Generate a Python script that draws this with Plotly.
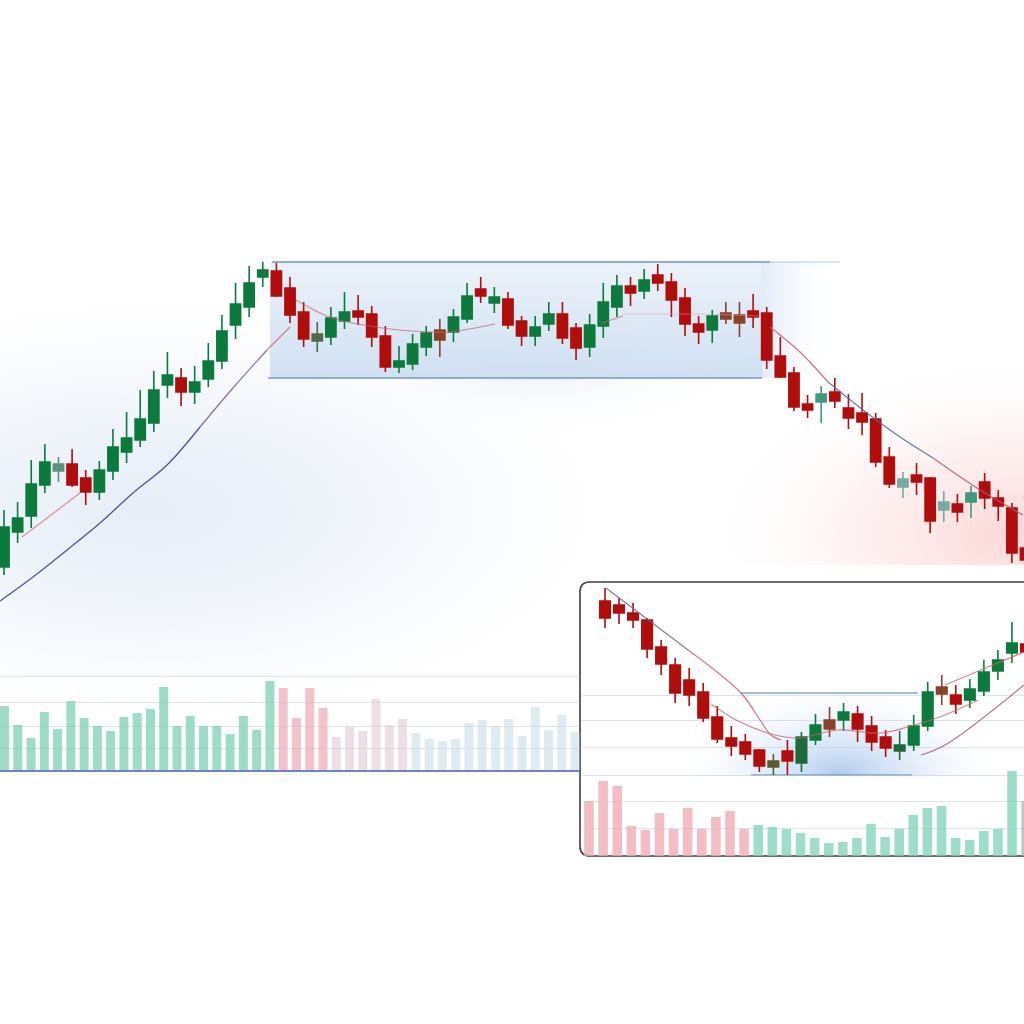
import plotly.graph_objects as go

# ---------------- main chart: candles ----------------
main_open  = [43.3, 46.8, 48.4, 51.5, 52.9, 53.6, 52.2, 50.8, 52.9, 54.8, 56.0, 57.7, 61.5, 62.2, 60.8, 62.1, 63.9, 67.5, 69.3, 72.3,
              72.9, 71.2, 68.8, 65.9, 66.3, 67.9, 68.9, 68.6, 66.4, 63.3, 63.6, 65.3, 67.0, 66.8, 68.1, 71.1, 69.7, 70.1, 67.9, 66.4,
              67.6, 68.6, 67.2, 65.3, 67.4, 69.3, 71.4, 70.9, 72.5, 71.8, 70.2, 67.6, 67.0, 68.7, 68.5, 68.9, 68.7, 64.4, 62.7, 59.6,
              59.8, 60.8, 59.2, 58.7, 58.1, 54.3, 51.3, 52.5, 52.2, 49.0, 49.6, 49.8, 51.8, 50.2, 49.2, 45.2]
main_high  = [49.0, 49.8, 54.0, 55.6, 54.3, 55.1, 53.0, 53.9, 57.1, 58.8, 61.0, 62.9, 64.8, 63.2, 63.4, 65.7, 68.5, 71.7, 73.4, 73.8,
              73.7, 72.3, 69.8, 67.8, 69.3, 70.8, 70.5, 69.4, 67.4, 65.4, 66.6, 67.4, 68.1, 69.1, 71.7, 72.3, 71.3, 70.8, 68.4, 68.4,
              69.8, 69.8, 67.7, 68.6, 71.7, 72.5, 72.3, 73.1, 73.6, 72.7, 71.2, 68.4, 69.0, 69.8, 69.8, 70.6, 69.3, 66.3, 63.3, 60.5,
              61.4, 62.2, 60.6, 60.7, 58.7, 55.3, 52.8, 53.7, 52.3, 50.9, 50.6, 51.4, 52.7, 51.0, 49.7, 45.5]
main_low   = [42.5, 45.7, 47.2, 50.7, 51.8, 51.3, 49.5, 50.0, 52.0, 53.7, 55.3, 56.8, 60.2, 59.4, 59.6, 61.3, 63.1, 66.1, 68.3, 71.3,
              70.3, 67.7, 65.3, 64.8, 65.5, 67.1, 67.5, 65.3, 62.8, 62.7, 63.0, 64.4, 64.3, 65.8, 67.7, 69.7, 68.7, 67.1, 65.4, 65.4,
              66.9, 65.6, 64.0, 64.3, 66.2, 68.3, 69.4, 70.1, 70.9, 68.3, 66.4, 65.6, 65.7, 67.6, 66.3, 67.2, 63.1, 62.2, 58.9, 58.2,
              57.7, 59.2, 57.1, 56.5, 53.3, 51.2, 50.2, 50.5, 46.7, 47.8, 47.8, 48.2, 49.1, 47.9, 43.7, 43.5]
main_close = [47.3, 48.2, 51.6, 53.8, 53.6, 51.5, 50.8, 53.0, 55.3, 56.2, 58.1, 61.0, 62.5, 60.8, 61.8, 63.9, 66.9, 69.6, 71.7, 73.0,
              70.4, 68.5, 66.1, 66.6, 68.2, 68.8, 68.3, 66.3, 63.3, 63.9, 65.6, 66.7, 66.0, 68.3, 70.4, 70.4, 70.3, 67.5, 66.4, 67.3,
              68.6, 66.2, 65.2, 67.5, 69.8, 71.4, 70.7, 72.0, 71.7, 70.0, 67.6, 66.8, 68.4, 68.1, 67.7, 68.3, 64.0, 62.3, 59.3, 59.0,
              60.6, 59.9, 58.2, 57.8, 53.8, 51.6, 52.1, 51.8, 47.9, 49.8, 48.8, 50.7, 50.2, 49.4, 44.7, 44.0]
main_kind  = ["G", "G", "G", "G", "TG", "R", "R", "G", "G", "G", "G", "G", "G", "R", "G", "G", "G", "G", "G", "G",
              "R", "R", "R", "OL", "G", "G", "R", "R", "R", "G", "G", "G", "BR", "G", "G", "R", "G", "R", "R", "G",
              "G", "R", "R", "G", "G", "G", "R", "G", "R", "R", "R", "R", "G", "BR", "BR", "R", "R", "R", "R", "R",
              "T", "R", "R", "R", "R", "R", "TL", "R", "R", "TL", "R", "T", "R", "R", "R", "R"]

# trend / average lines of the main chart (x = candle index, y = price)
ma_start_x = [1.32, 5.58]
ma_start_y = [46.3, 50.7]
trend_up_x = [-0.29, 2.13, 4.63, 7.05, 9.47, 11.97, 14.39, 16.81, 19.31, 21.0]
trend_up_y = [39.9, 42.3, 45.0, 47.7, 50.7, 53.5, 57.3, 61.2, 65.0, 67.3]
range_ma_x = [21.44, 24.08, 27.31, 29.88, 31.57, 32.67, 36.05, None, 43.91, 45.45]
range_ma_y = [70.0, 68.2, 67.3, 66.9, 66.8, 66.8, 67.6, None, 67.7, 68.4]
range_flat_x = [45.45, 51.47, 55.51]
range_flat_y = [68.6, 68.6, 68.4]
trend_dn_x = [56.24, 58.44, 60.5, 63.36, 65.79, 68.21, 71.44, 74.82]
trend_dn_y = [67.3, 64.8, 61.8, 58.7, 56.3, 54.2, 51.2, 48.5]

# ---------------- main chart: volume ----------------
main_vol = [64, 45, 32, 58, 41, 69, 52, 44, 39, 53, 57, 61, 83, 44, 54, 44, 44, 36, 54, 40,
            89, 82, 52, 82, 62, 33, 43, 39, 71, 45, 51, 37, 31, 29, 31, 47, 50, 44, 51, 34,
            63, 40, 55, 38]
main_vol_kind = ["up"] * 21 + ["down"] * 4 + ["fade"] * 6 + ["calm"] * 13

# ---------------- inset chart ----------------
in_open  = [39.9, 39.5, 38.7, 38.0, 35.3, 33.5, 32.0, 30.8, 28.3, 26.2, 25.8, 25.0, 23.3, 24.9, 23.7, 26.0, 28.0, 28.0, 28.6, 27.4,
            26.3, 24.9, 25.5, 27.4, 31.3, 30.5, 30.0, 30.9, 32.9, 34.7, 35.6]
in_high  = [41.2, 40.2, 39.7, 38.2, 36.0, 34.2, 33.2, 31.7, 29.4, 27.4, 26.6, 25.1, 24.6, 26.0, 26.8, 28.6, 29.3, 29.7, 29.4, 28.4,
            27.0, 26.9, 28.5, 31.8, 32.5, 31.5, 32.1, 34.0, 35.0, 37.8, 36.4]
in_low   = [37.2, 37.6, 37.2, 34.2, 32.5, 29.7, 29.4, 27.8, 25.7, 24.4, 24.0, 22.8, 22.5, 22.5, 22.8, 25.5, 26.3, 26.9, 25.8, 24.9,
            24.3, 24.0, 24.9, 26.9, 29.5, 28.6, 29.2, 30.4, 32.0, 33.7, 34.0]
in_close = [38.2, 38.7, 38.0, 35.1, 33.6, 30.7, 30.5, 28.2, 26.1, 25.4, 24.6, 23.4, 23.9, 23.9, 26.3, 27.5, 27.1, 28.8, 27.1, 25.8,
            25.2, 25.5, 27.4, 30.8, 30.6, 29.6, 31.1, 32.8, 34.0, 35.7, 34.8]
in_kind  = ["R"] * 12 + ["OLV", "R", "DG", "G", "BR", "G", "R", "R", "R", "DG", "G", "G", "BR", "R", "G", "G", "G", "G", "R"]

in_desc_x = [0.07, 5.92, 9.69, 11.05, 11.83, 12.54]
in_desc_y = [41.2, 35.0, 30.7, 28.0, 26.5, 26.0]
in_ma_x = [7.56, 9.48, 12.12, 13.76, 16.61, 19.67, 21.81, 24.23, 26.59]
in_ma_y = [29.6, 27.9, 26.5, 26.2, 27.0, 26.7, 27.4, 28.5, 30.0]
in_upper_x = [24.23, 27.30, 29.86]
in_upper_y = [31.5, 33.3, 34.8]
in_lower_x = [22.52, 24.23, 29.86]
in_lower_y = [24.5, 25.5, 31.5]

in_vol = [55, 75, 70, 30, 26, 43, 27, 48, 27, 39, 45, 27, 31, 29, 27, 23, 18, 13, 14, 18,
          32, 19, 27, 41, 48, 50, 18, 16, 25, 27, 85, 55]
in_vol_kind = ["down"] * 12 + ["up"] * 19 + ["flat"]

# ---------------- styles ----------------
CANDLE_COLORS = {"G": "#0d7a3d", "R": "#b00d0d", "TG": "#5d8f7a", "OL": "#4d6a4c", "BR": "#8a4127",
                 "T": "#3f9a80", "TL": "#74aba3", "DG": "#1e6a3a", "OLV": "#5b5b2c"}
MAIN_VOL_COLORS = {"up": "rgba(125,208,182,0.75)", "down": "rgba(236,170,180,0.7)",
                   "fade": "rgba(224,202,212,0.6)", "calm": "rgba(200,222,231,0.6)"}
IN_VOL_COLORS = {"down": "rgba(238,172,180,0.78)", "up": "rgba(125,209,184,0.75)", "flat": "rgba(165,182,182,0.75)"}

fig = go.Figure()

# ---------- decorations (pixel space) ----------
def rect(x0, y0, x1, y1):
    return [x0, x1, x1, x0, x0], [y0, y0, y1, y1, y0]


def glow(x0, y0, x1, y1, scale, kind="radial", ax=("x", "y"), start=None, stop=None):
    xs, ys = rect(x0, y0, x1, y1)
    fg = dict(type=kind, colorscale=scale)
    if start is not None:
        fg["start"] = start
        fg["stop"] = stop
    fig.add_trace(go.Scatter(x=xs, y=ys, fill="toself", mode="none", fillgradient=fg,
                             xaxis=ax[0], yaxis=ax[1], hoverinfo="skip", showlegend=False))


def seg(xs, ys, color, width, ax, shape="linear"):
    fig.add_trace(go.Scatter(x=xs, y=ys, mode="lines", line=dict(color=color, width=width, shape=shape),
                             xaxis=ax[0], yaxis=ax[1], hoverinfo="skip", showlegend=False,
                             connectgaps=False))

CLEAR = "rgba(255,255,255,0)"
# soft blue haze under the rally
glow(-340, 280, 640, 740, [[0, "rgba(205,220,239,0.5)"], [0.3, "rgba(210,224,241,0.4)"],
                           [0.65, "rgba(220,231,245,0.2)"], [1, CLEAR]])
# consolidation band
glow(300, 290, 770, 440, [[0, "rgba(185,208,236,0.3)"], [1, CLEAR]])
glow(270, 262, 762, 378, [[0, "rgba(230,238,248,0.8)"], [1, "rgba(200,219,240,0.85)"]], kind="vertical", start=262, stop=378)
glow(762, 262, 840, 378, [[0, "rgba(215,230,246,0.75)"], [1, CLEAR]], kind="horizontal", start=762, stop=840)
seg([272, 770], [262, 262], "rgba(112,146,192,0.75)", 2, ("x", "y"))
seg([770, 840], [262, 262], "rgba(150,180,215,0.35)", 2, ("x", "y"))
seg([268, 762], [378, 378], "rgba(110,145,196,0.7)", 2, ("x", "y"))
# red haze of the sell-off (clipped at the chart floor)
glow(700, 350, 1320, 720, [[0, "rgba(250,195,195,0.65)"], [0.5, "rgba(252,220,220,0.38)"], [1, CLEAR]], ax=("x2", "y2"))
# inset glow (clipped at the inset base line)
glow(670, 680, 1010, 870, [[0, "rgba(150,186,232,0.75)"], [0.45, "rgba(195,217,243,0.45)"], [1, CLEAR]], ax=("x3", "y3"))
seg([741, 918], [693, 693], "rgba(105,142,200,0.8)", 1.6, ("x3", "y3"))
seg([751, 912], [775, 775], "rgba(105,142,200,0.8)", 1.6, ("x3", "y3"))

# ---------- main candles ----------
for kind, col in CANDLE_COLORS.items():
    idx = [i for i, k in enumerate(main_kind) if k == kind]
    if not idx:
        continue
    fig.add_trace(go.Candlestick(
        x=idx, open=[main_open[i] for i in idx], high=[main_high[i] for i in idx],
        low=[main_low[i] for i in idx], close=[main_close[i] for i in idx],
        increasing=dict(line=dict(color=col, width=1.6), fillcolor=col),
        decreasing=dict(line=dict(color=col, width=1.6), fillcolor=col),
        whiskerwidth=0, xaxis="x4", yaxis="y4", hoverinfo="skip", showlegend=False))

seg(ma_start_x, ma_start_y, "rgba(214,110,115,0.75)", 1.2, ("x4", "y4"))
seg(trend_up_x[:7], trend_up_y[:7], "rgba(55,70,135,0.9)", 1.3, ("x4", "y4"), "spline")
seg(trend_up_x[6:9], trend_up_y[6:9], "rgba(125,90,150,0.85)", 1.3, ("x4", "y4"), "spline")
seg(trend_up_x[8:], trend_up_y[8:], "rgba(215,110,120,0.85)", 1.3, ("x4", "y4"), "spline")
seg(range_ma_x, range_ma_y, "rgba(205,95,105,0.7)", 1.2, ("x4", "y4"), "spline")
seg(range_flat_x, range_flat_y, "rgba(215,165,172,0.5)", 1.2, ("x4", "y4"))
seg(trend_dn_x[:3], trend_dn_y[:3], "rgba(200,90,100,0.85)", 1.3, ("x4", "y4"), "spline")
seg(trend_dn_x[2:6], trend_dn_y[2:6], "rgba(80,100,150,0.85)", 1.3, ("x4", "y4"), "spline")
seg(trend_dn_x[5:], trend_dn_y[5:], "rgba(170,90,112,0.85)", 1.3, ("x4", "y4"), "spline")

# ---------- main volume ----------
fig.add_trace(go.Bar(x=list(range(len(main_vol))), y=main_vol, width=0.68,
                     marker=dict(color=[MAIN_VOL_COLORS[k] for k in main_vol_kind], line=dict(width=0)),
                     xaxis="x5", yaxis="y5", hoverinfo="skip", showlegend=False))

# ---------- inset candles ----------
for kind, col in CANDLE_COLORS.items():
    idx = [i for i, k in enumerate(in_kind) if k == kind]
    if not idx:
        continue
    fig.add_trace(go.Candlestick(
        x=idx, open=[in_open[i] for i in idx], high=[in_high[i] for i in idx],
        low=[in_low[i] for i in idx], close=[in_close[i] for i in idx],
        increasing=dict(line=dict(color=col, width=1.6), fillcolor=col),
        decreasing=dict(line=dict(color=col, width=1.6), fillcolor=col),
        whiskerwidth=0, xaxis="x6", yaxis="y6", hoverinfo="skip", showlegend=False))

seg(in_desc_x[:2], in_desc_y[:2], "rgba(95,105,145,0.85)", 1.2, ("x6", "y6"))
seg(in_desc_x[1:], in_desc_y[1:], "rgba(190,85,95,0.8)", 1.2, ("x6", "y6"), "spline")
seg(in_ma_x, in_ma_y, "rgba(200,95,105,0.75)", 1.2, ("x6", "y6"), "spline")
seg(in_upper_x, in_upper_y, "rgba(200,95,105,0.8)", 1.2, ("x6", "y6"), "spline")
seg(in_lower_x, in_lower_y, "rgba(150,80,125,0.8)", 1.2, ("x6", "y6"), "spline")

# ---------- inset volume ----------
fig.add_trace(go.Bar(x=list(range(len(in_vol))), y=in_vol, width=0.68,
                     marker=dict(color=[IN_VOL_COLORS[k] for k in in_vol_kind], line=dict(width=0)),
                     xaxis="x7", yaxis="y7", hoverinfo="skip", showlegend=False))

# ---------- inset frame ----------
L, R, T, B, r = 580 / 1024, 1.02, 1 - 582 / 1024, 1 - 856 / 1024, 10 / 1024
frame = (f"M {L + r},{T} L {R},{T} L {R},{B} L {L + r},{B} Q {L},{B} {L},{B + r} "
         f"L {L},{T - r} Q {L},{T} {L + r},{T} Z")
fig.add_shape(type="path", path=frame, xref="paper", yref="paper", layer="below",
              fillcolor="white", line=dict(color="#3b3b3b", width=1.6))

# ---------- axes ----------
hid = dict(visible=False, fixedrange=True)
grid = "rgba(192,199,212,0.5)"
grid_axis = dict(visible=True, showticklabels=False, ticks="", showline=False, zeroline=False,
                 showgrid=True, gridcolor=grid, gridwidth=1, fixedrange=True)

fig.update_layout(
    width=1024, height=1024, margin=dict(l=0, r=0, t=0, b=0),
    paper_bgcolor="white", plot_bgcolor="rgba(0,0,0,0)", template="none",
    showlegend=False, boxgap=0.25, boxgroupgap=0, hovermode=False,
    xaxis=dict(hid, domain=[0, 1], range=[0, 1024]),
    yaxis=dict(hid, domain=[0, 1], range=[1024, 0]),
    xaxis2=dict(hid, domain=[0, 1], range=[0, 1024], anchor="y2"),
    yaxis2=dict(hid, domain=[1 - 565 / 1024, 1], range=[565, 0], anchor="x2"),
    xaxis3=dict(hid, domain=[582 / 1024, 1], range=[582, 1024], anchor="y3"),
    yaxis3=dict(hid, domain=[1 - 776 / 1024, 1], range=[776, 0], anchor="x3"),
    xaxis4=dict(hid, domain=[0, 1], range=[-0.294, 74.89], anchor="y4", rangeslider=dict(visible=False)),
    yaxis4=dict(hid, domain=[1 - 620 / 1024, 1 - 250 / 1024], range=[38, 75], anchor="x4"),
    xaxis5=dict(visible=True, showticklabels=False, ticks="", showgrid=False, zeroline=False,
                showline=True, linecolor="#7282bd", linewidth=1.6, fixedrange=True,
                domain=[0, 580 / 1024], range=[-0.339, 43.37], anchor="y5"),
    yaxis5=dict(grid_axis, domain=[1 - 770 / 1024, 1 - 670 / 1024], range=[0, 100],
                tickvals=[22, 44, 68, 94], anchor="x5"),
    xaxis6=dict(hid, domain=[582 / 1024, 1], range=[-1.639, 29.86], anchor="y6", rangeslider=dict(visible=False)),
    yaxis6=dict(grid_axis, domain=[1 - 780 / 1024, 1 - 580 / 1024], range=[22, 42],
                tickvals=[22.5, 25.3, 28.0, 30.5], anchor="x6"),
    xaxis7=dict(hid, domain=[582 / 1024, 1], range=[-0.496, 30.85], anchor="y7"),
    yaxis7=dict(grid_axis, domain=[1 - 856 / 1024, 1 - 766 / 1024], range=[0, 90],
                tickvals=[28, 55], anchor="x7"),
)

fig.write_html("out.html", config={"displayModeBar": False, "staticPlot": True},
               post_script="document.body.style.margin='0';document.body.style.padding='0';"
                           "document.documentElement.style.overflow='hidden';")
